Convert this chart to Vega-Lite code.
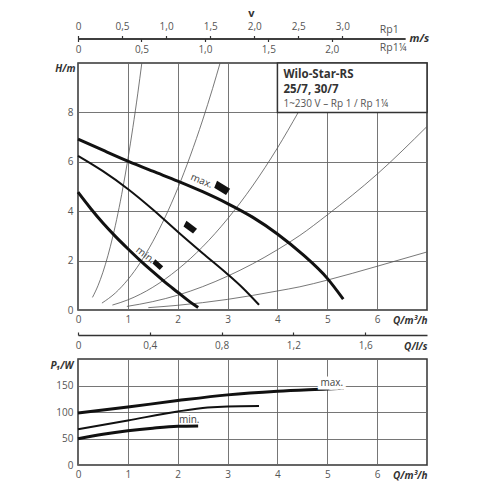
{
  "$schema": "https://vega.github.io/schema/vega-lite/v6.json",
  "background": "white",
  "padding": {"left": 49, "top": 7.5, "right": 5, "bottom": 5},
  "config": {
    "font": "Open Sans",
    "view": {"stroke": "#333", "strokeWidth": 1.5},
    "axis": {"labelColor": "#555", "labelFontSize": 10, "titleColor": "#333", "titleFontSize": 10, "titleFontWeight": "bold", "titleFontStyle": "italic", "gridColor": "#666", "gridWidth": 0.9, "domain": false, "ticks": false, "labelFont": "Open Sans", "titleFont": "Open Sans", "labelOverlap": false},
    "axisX": {"labelFlush": false}
  },
  "datasets": {
    "pumpH": [
      {"s": "max", "Q": 0, "H": 6.92}, {"s": "max", "Q": 0.5, "H": 6.47}, {"s": "max", "Q": 1, "H": 6.03}, {"s": "max", "Q": 1.5, "H": 5.62}, {"s": "max", "Q": 2, "H": 5.22}, {"s": "max", "Q": 2.5, "H": 4.79}, {"s": "max", "Q": 3, "H": 4.31}, {"s": "max", "Q": 3.5, "H": 3.76}, {"s": "max", "Q": 4, "H": 3.08}, {"s": "max", "Q": 4.5, "H": 2.26}, {"s": "max", "Q": 5, "H": 1.28}, {"s": "max", "Q": 5.32, "H": 0.44},
      {"s": "mid", "Q": 0, "H": 6.24}, {"s": "mid", "Q": 0.5, "H": 5.62}, {"s": "mid", "Q": 1, "H": 4.9}, {"s": "mid", "Q": 1.5, "H": 4.07}, {"s": "mid", "Q": 2, "H": 3.17}, {"s": "mid", "Q": 2.5, "H": 2.3}, {"s": "mid", "Q": 3, "H": 1.45}, {"s": "mid", "Q": 3.3, "H": 0.9}, {"s": "mid", "Q": 3.63, "H": 0.21},
      {"s": "min", "Q": 0, "H": 4.77}, {"s": "min", "Q": 0.25, "H": 4.12}, {"s": "min", "Q": 0.5, "H": 3.52}, {"s": "min", "Q": 0.75, "H": 2.98}, {"s": "min", "Q": 1, "H": 2.48}, {"s": "min", "Q": 1.25, "H": 2.0}, {"s": "min", "Q": 1.5, "H": 1.55}, {"s": "min", "Q": 1.75, "H": 1.12}, {"s": "min", "Q": 2, "H": 0.72}, {"s": "min", "Q": 2.2, "H": 0.4}, {"s": "min", "Q": 2.41, "H": 0.1}
    ],
    "pumpP": [
      {"s": "max", "Q": 0, "P": 98}, {"s": "max", "Q": 1, "P": 109.4}, {"s": "max", "Q": 2, "P": 121.5}, {"s": "max", "Q": 3, "P": 132.3}, {"s": "max", "Q": 4, "P": 139.2}, {"s": "max", "Q": 5, "P": 143.5}, {"s": "max", "Q": 5.33, "P": 145},
      {"s": "mid", "Q": 0, "P": 67.5}, {"s": "mid", "Q": 1, "P": 84}, {"s": "mid", "Q": 2, "P": 101}, {"s": "mid", "Q": 2.6, "P": 108.5}, {"s": "mid", "Q": 3, "P": 110.5}, {"s": "mid", "Q": 3.63, "P": 111.2},
      {"s": "min", "Q": 0, "P": 49.5}, {"s": "min", "Q": 0.5, "P": 58}, {"s": "min", "Q": 1, "P": 64.6}, {"s": "min", "Q": 1.5, "P": 69.5}, {"s": "min", "Q": 2, "P": 73}, {"s": "min", "Q": 2.41, "P": 73.6}
    ]
  },
  "bounds": "flush",
  "spacing": 23.5,
  "vconcat": [
    {
      "width": 327,
      "height": 0.01,
      "view": {"stroke": null},
      "data": {"values": [{"v": 0}]},
      "layer": [
        {
          "mark": {"type": "point", "opacity": 0},
          "encoding": {
            "x": {"field": "v", "type": "quantitative", "scale": {"domain": [0, 3.711], "nice": false, "zero": false},
              "axis": {"orient": "top", "values": [0, 0.5, 1, 1.5, 2, 2.5, 3], "labelExpr": "datum.value == 0 ? '0' : replace(format(datum.value, '.1f'), '.', ',')", "domain": true, "domainColor": "#333", "domainWidth": 1.5, "ticks": true, "tickSize": 3, "tickColor": "#333", "tickWidth": 1.2, "labelPadding": 4, "grid": false, "title": "Rp1", "titleX": 301.3, "titleY": -8.7, "titleAlign": "left", "titleBaseline": "middle", "titleFontWeight": "normal", "titleFontStyle": "normal", "titleColor": "#555", "titleFontSize": 10.5}},
            "y": {"field": "v", "type": "quantitative", "scale": {"domain": [0, 1]},
              "axis": {"orient": "left", "labels": false, "grid": false, "title": "v", "titleAngle": 0, "titleX": 172.8, "titleY": -24.7, "titleAlign": "center", "titleBaseline": "middle", "titleFontStyle": "normal", "titleFontSize": 11}}
          }
        },
        {
          "mark": {"type": "point", "opacity": 0},
          "encoding": {
            "x": {"field": "v", "type": "quantitative", "scale": {"domain": [0, 2.577], "nice": false, "zero": false},
              "axis": {"orient": "bottom", "values": [0, 0.5, 1, 1.5, 2], "labelExpr": "datum.value == 0 ? '0' : replace(format(datum.value, '.1f'), '.', ',')", "domain": true, "domainColor": "#333", "domainWidth": 1.5, "ticks": true, "tickSize": 3, "tickColor": "#333", "tickWidth": 1.2, "labelPadding": 3, "grid": false, "title": "Rp1¼", "titleX": 301.3, "titleY": 9.3, "titleAlign": "left", "titleBaseline": "middle", "titleFontWeight": "normal", "titleFontStyle": "normal", "titleColor": "#555", "titleFontSize": 10.5}},
            "y": {"field": "v", "type": "quantitative", "scale": {"domain": [0, 1]},
              "axis": {"orient": "right", "labels": false, "grid": false, "title": "m/s", "titleAngle": 0, "titleX": 4, "titleY": 0, "titleAlign": "left", "titleBaseline": "middle", "titleFontSize": 11}}
          }
        }
      ],
      "resolve": {"scale": {"x": "independent", "y": "independent"}, "axis": {"x": "independent", "y": "independent"}}
    },
    {
      "width": 349,
      "height": 247,
      "encoding": {
        "x": {"field": "Q", "type": "quantitative", "scale": {"domain": [0, 7], "nice": false, "zero": false},
          "axis": {"values": [0, 1, 2, 3, 4, 5, 6], "grid": true, "labelPadding": 4.5, "title": "Q/m³/h", "titleX": 349, "titleY": 10.5, "titleAlign": "right", "titleBaseline": "middle"}},
        "y": {"field": "H", "type": "quantitative", "scale": {"domain": [0, 10], "nice": false, "zero": false},
          "axis": {"values": [0, 2, 4, 6, 8], "grid": true, "labelPadding": 5, "title": "H/m", "titleAngle": 0, "titleX": -3, "titleY": 5.5, "titleAlign": "right", "titleBaseline": "middle"}}
      },
      "layer": [
        {
          "data": {"values": [
            {"c": "A", "Q": 0.29, "H": 0.51}, {"c": "A", "Q": 0.4, "H": 0.98}, {"c": "A", "Q": 0.5, "H": 1.53}, {"c": "A", "Q": 0.6, "H": 2.2}, {"c": "A", "Q": 0.7, "H": 2.99}, {"c": "A", "Q": 0.8, "H": 3.9}, {"c": "A", "Q": 0.9, "H": 4.94}, {"c": "A", "Q": 1.0, "H": 6.1}, {"c": "A", "Q": 1.1, "H": 7.38}, {"c": "A", "Q": 1.2, "H": 8.78}, {"c": "A", "Q": 1.28, "H": 10.0},
            {"c": "B", "Q": 0.48, "H": 0.28}, {"c": "B", "Q": 0.75, "H": 0.69}, {"c": "B", "Q": 1.0, "H": 1.23}, {"c": "B", "Q": 1.25, "H": 1.92}, {"c": "B", "Q": 1.5, "H": 2.77}, {"c": "B", "Q": 1.75, "H": 3.77}, {"c": "B", "Q": 2.0, "H": 4.92}, {"c": "B", "Q": 2.25, "H": 6.23}, {"c": "B", "Q": 2.5, "H": 7.69}, {"c": "B", "Q": 2.7, "H": 8.97}, {"c": "B", "Q": 2.85, "H": 10.0},
            {"c": "C", "Q": 0.69, "H": 0.2}, {"c": "C", "Q": 1.0, "H": 0.41}, {"c": "C", "Q": 1.5, "H": 0.92}, {"c": "C", "Q": 2.0, "H": 1.64}, {"c": "C", "Q": 2.5, "H": 2.56}, {"c": "C", "Q": 3.0, "H": 3.69}, {"c": "C", "Q": 3.5, "H": 5.02}, {"c": "C", "Q": 4.0, "H": 6.56}, {"c": "C", "Q": 4.42, "H": 8.01},
            {"c": "D", "Q": 0.98, "H": 0.145}, {"c": "D", "Q": 1.5, "H": 0.34}, {"c": "D", "Q": 2.0, "H": 0.6}, {"c": "D", "Q": 3.0, "H": 1.37}, {"c": "D", "Q": 4.0, "H": 2.44}, {"c": "D", "Q": 4.45, "H": 3.02}, {"c": "D", "Q": 5.0, "H": 3.85}, {"c": "D", "Q": 6.0, "H": 5.5}, {"c": "D", "Q": 7.0, "H": 7.43},
            {"c": "E", "Q": 1.41, "H": 0.095}, {"c": "E", "Q": 2.0, "H": 0.19}, {"c": "E", "Q": 3.0, "H": 0.43}, {"c": "E", "Q": 4.0, "H": 0.77}, {"c": "E", "Q": 4.45, "H": 0.94}, {"c": "E", "Q": 5.0, "H": 1.21}, {"c": "E", "Q": 6.0, "H": 1.77}, {"c": "E", "Q": 7.0, "H": 2.35}
          ]},
          "mark": {"type": "line", "color": "#555", "strokeWidth": 0.8, "interpolate": "monotone"},
          "encoding": {"detail": {"field": "c", "type": "nominal"}}
        },
        {
          "data": {"values": [{"Q": 4, "Q2": 7, "H": 8, "H2": 10}]},
          "mark": {"type": "rect", "fill": "white", "stroke": "#333", "strokeWidth": 1.5},
          "encoding": {"x2": {"field": "Q2"}, "y2": {"field": "H2"}}
        },
        {
          "data": {"values": [{"Q": 4.12, "H": 9.38, "t": "Wilo-Star-RS"}, {"Q": 4.12, "H": 8.8, "t": "25/7, 30/7"}]},
          "mark": {"type": "text", "align": "left", "baseline": "alphabetic", "fontSize": 11.5, "fontWeight": "bold", "color": "#333"},
          "encoding": {"text": {"field": "t"}}
        },
        {
          "data": {"values": [{"Q": 4.12, "H": 8.23, "t": "1~230 V – Rp 1 / Rp 1¼"}]},
          "mark": {"type": "text", "align": "left", "baseline": "alphabetic", "fontSize": 10, "color": "#555"},
          "encoding": {"text": {"field": "t"}}
        },
        {
          "data": {"name": "pumpH"},
          "transform": [{"filter": "datum.s != 'mid'"}],
          "mark": {"type": "line", "color": "#111", "strokeWidth": 3, "interpolate": "monotone"},
          "encoding": {"detail": {"field": "s", "type": "nominal"}}
        },
        {
          "data": {"name": "pumpH"},
          "transform": [{"filter": "datum.s == 'mid'"}],
          "mark": {"type": "line", "color": "#111", "strokeWidth": 2, "interpolate": "monotone"},
          "encoding": {"detail": {"field": "s", "type": "nominal"}}
        },
        {
          "data": {"values": [{"s": "max", "Q": 2.89, "H": 4.92}, {"s": "mid", "Q": 2.25, "H": 3.33}, {"s": "min", "Q": 1.6, "H": 1.82}]},
          "mark": {"type": "point", "shape": "M-1,-0.7L1,-0.35L0.8,0.6L-1,0.3Z", "filled": true, "color": "#111", "opacity": 1, "strokeWidth": 0},
          "encoding": {
            "size": {"field": "s", "type": "nominal", "scale": {"domain": ["max", "mid", "min"], "range": [230, 110, 70]}, "legend": null},
            "angle": {"field": "s", "type": "nominal", "scale": {"domain": ["max", "mid", "min"], "range": [22, 32, 36]}, "legend": null}
          }
        },
        {
          "data": {"values": [{"Q": 2.48, "H": 5.22, "t": "max."}]},
          "mark": {"type": "text", "angle": 22, "fontSize": 10, "color": "#444", "align": "center", "baseline": "middle"},
          "encoding": {"text": {"field": "t"}}
        },
        {
          "data": {"values": [{"Q": 1.35, "H": 2.22, "t": "min."}]},
          "mark": {"type": "text", "angle": 38, "fontSize": 10, "color": "#444", "align": "center", "baseline": "middle"},
          "encoding": {"text": {"field": "t"}}
        }
      ]
    },
    {
      "width": 349,
      "height": 1.5,
      "view": {"stroke": null},
      "data": {"values": [{"q": 0}]},
      "mark": {"type": "point", "opacity": 0},
      "encoding": {
        "x": {"field": "q", "type": "quantitative", "scale": {"domain": [0, 1.9444], "nice": false, "zero": false},
          "axis": {"orient": "bottom", "values": [0, 0.4, 0.8, 1.2, 1.6], "labelExpr": "datum.value == 0 ? '0' : replace(format(datum.value, '.1f'), '.', ',')", "domain": true, "domainColor": "#333", "domainWidth": 1.5, "ticks": true, "tickSize": -3, "tickColor": "#333", "tickWidth": 1.2, "labelPadding": 8.6, "grid": false, "title": "Q/l/s", "titleX": 349, "titleY": 11.7, "titleAlign": "right", "titleBaseline": "middle"}}
      }
    },
    {
      "width": 349,
      "height": 106,
      "encoding": {
        "x": {"field": "Q", "type": "quantitative", "scale": {"domain": [0, 7], "nice": false, "zero": false},
          "axis": {"values": [0, 1, 2, 3, 4, 5, 6], "grid": true, "labelPadding": 4.5, "title": "Q/m³/h", "titleX": 349, "titleY": 10.5, "titleAlign": "right", "titleBaseline": "middle"}},
        "y": {"field": "P", "type": "quantitative", "scale": {"domain": [0, 200], "nice": false, "zero": false},
          "axis": {"values": [0, 50, 100, 150], "grid": true, "labelPadding": 5, "title": "P₁/W", "titleAngle": 0, "titleX": -5, "titleY": 6, "titleAlign": "right", "titleBaseline": "middle"}}
      },
      "layer": [
        {
          "data": {"name": "pumpP"},
          "transform": [{"filter": "datum.s != 'mid'"}],
          "mark": {"type": "line", "color": "#111", "strokeWidth": 3, "interpolate": "monotone"},
          "encoding": {"detail": {"field": "s", "type": "nominal"}}
        },
        {
          "data": {"name": "pumpP"},
          "transform": [{"filter": "datum.s == 'mid'"}],
          "mark": {"type": "line", "color": "#111", "strokeWidth": 2, "interpolate": "monotone"},
          "encoding": {"detail": {"field": "s", "type": "nominal"}}
        },
        {
          "data": {"values": [{"Q": 5.09, "P": 155, "t": "max."}]},
          "mark": {"type": "text", "fontSize": 10, "color": "white", "stroke": "white", "strokeWidth": 7, "align": "center", "baseline": "middle"},
          "encoding": {"text": {"field": "t"}}
        },
        {
          "data": {"values": [{"Q": 5.09, "P": 155, "t": "max."}, {"Q": 2.23, "P": 85, "t": "min."}]},
          "mark": {"type": "text", "fontSize": 10, "color": "#444", "align": "center", "baseline": "middle"},
          "encoding": {"text": {"field": "t"}}
        }
      ]
    }
  ]
}
